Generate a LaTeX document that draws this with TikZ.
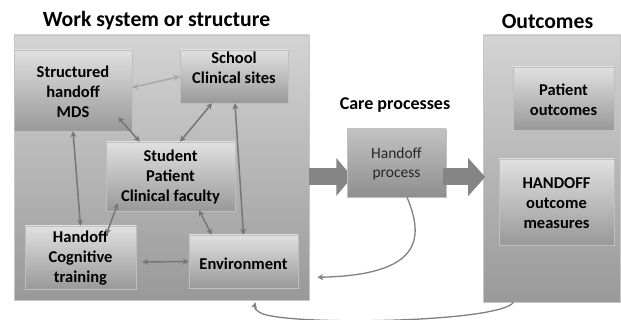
\documentclass[tikz,border=0pt]{standalone}
\usepackage{fontspec}
\setmainfont{Carlito}
\usetikzlibrary{arrows.meta,calc,shadows}
\definecolor{conn}{HTML}{767676}
\definecolor{connlight}{HTML}{A8A8A8}
\definecolor{bigarrow}{HTML}{858585}
\begin{document}
\begin{tikzpicture}[x=1pt,y=-1pt,
  outerbox/.style={draw=black!22, line width=0.6pt, top color=black!17, bottom color=black!40, minimum width=#1},
  innerbox/.style={draw=black!25, line width=0.5pt, top color=black!12, bottom color=black!40,
     drop shadow={opacity=0.35, shadow xshift=1.2pt, shadow yshift=-1.2pt}},
  procbox/.style={draw=black!25, line width=0.5pt, top color=black!24, bottom color=black!44,
     drop shadow={opacity=0.35, shadow xshift=1.2pt, shadow yshift=-1.2pt}},
  txt/.style={font=\fontsize{16.5}{20}\selectfont\bfseries, align=center, inner sep=0pt},
  ptxt/.style={font=\fontsize{15.5}{18.5}\selectfont, align=center, inner sep=0pt, text=black!85},
  ttl/.style={font=\fontsize{21.7}{24}\selectfont\bfseries, inner sep=0pt},
  ctl/.style={font=\fontsize{18}{20}\selectfont\bfseries, inner sep=0pt},
  dbl/.style={draw=conn, line width=1.5pt, {Stealth[length=6pt,width=6pt]}-{Stealth[length=6pt,width=6pt]}},
  curv/.style={draw=black!50, line width=1.3pt, -{Stealth[length=6pt,width=6pt]}}
]
\useasboundingbox (0,0) rectangle (621,320);
\fill[white] (0,0) rectangle (621,320);

% outer boxes
\node[outerbox=295pt, minimum height=265pt, inner sep=0pt, drop shadow={opacity=0.25, shadow xshift=1pt, shadow yshift=-1pt}] (outerL) at (161.5,167.5) {};
\node[outerbox=137pt, minimum height=267pt, inner sep=0pt, drop shadow={opacity=0.25, shadow xshift=1pt, shadow yshift=-1pt}] (outerR) at (552,168.5) {};

% titles
\node[ttl] (t1) at (156.5,21) {Work system or structure};
\node[ttl] (t2) at (547.5,21) {Outcomes};
\node[ctl] (t3) at (395,105) {Care processes};

% inner boxes
\node[innerbox, minimum width=118pt, minimum height=81pt, inner sep=0pt] (mds) at (73,90.5) {};
\node[innerbox, minimum width=108pt, minimum height=53pt, inner sep=0pt] (school) at (234,76.5) {};
\node[innerbox, minimum width=129pt, minimum height=69pt, inner sep=0pt] (student) at (170.5,176.5) {};
\node[innerbox, minimum width=111pt, minimum height=63pt, inner sep=0pt] (cog) at (80.5,257.5) {};
\node[innerbox, minimum width=109pt, minimum height=53pt, inner sep=0pt] (env) at (243.5,261.5) {};
\node[innerbox, minimum width=101pt, minimum height=63pt, inner sep=0pt] (pout) at (563.5,98.5) {};
\node[innerbox, minimum width=115pt, minimum height=86pt, inner sep=0pt] (hom) at (556.5,202) {};

% big arrows
\draw[bigarrow, line width=17pt, -{Triangle[width=37pt,length=16pt]}] ($(outerL.east)+(0,9.5)$) -- ($(outerL.east)+(43,9.5)$) coordinate (a1end);
\node[procbox, minimum width=99pt, minimum height=68pt, inner sep=0pt] (hproc) at (396.5,163) {};
\draw[bigarrow, line width=17pt, -{Triangle[width=37pt,length=17pt]}] ($(hproc.east)+(-3,14)$) -- ($(outerR.west)+(2,8.5)$);

% texts
\node[txt] (mdsT) at (73,92) {Structured\\handoff\\MDS};
\node[txt] (schoolT) at (234,68) {School\\Clinical sites};
\node[txt] (studentT) at (170.5,177) {Student\\Patient\\Clinical faculty};
\node[txt] (cogT) at (80.5,258) {Handoff\\Cognitive\\training};
\node[txt] (envT) at (243.5,264) {Environment};
\node[ptxt] (hprocT) at (396.5,164) {Handoff\\process};
\node[txt] (poutT) at (563.5,99.5) {Patient\\outcomes};
\node[txt] (homT) at (556.5,203) {HANDOFF\\outcome\\measures};

% double arrows
\draw[dbl, draw=connlight] ($(mds.east)+(0,-3)$) -- (school.west);
\draw[dbl] ($(mds.south east)+(-14,-14)$) -- ($(student.north west)+(34,0)$);
\draw[dbl] ($(school.south)+(-22,0)$) -- ($(student.north)+(9.5,0)$);
\draw[dbl] ($(school.south)+(1,0)$) -- (env.north);
\draw[dbl] (mds.south) -- (cog.north);
\draw[dbl] ($(student.south west)+(12,-8)$) -- ($(cog.north east)+(-30,9)$);
\draw[dbl] ($(student.south)+(28.5,-1)$) -- ($(env.north west)+(23,0)$);
\draw[dbl] ($(cog.east)+(6,4.5)$) -- (env.west);

% curved feedback arrows
\draw[curv] ($(hproc.south)+(10.5,0)$) .. controls (425,240) and (420,275) .. ($(outerL.south east)+(8,-23)$);
\draw[curv] ($(outerR.south)+(-38.5,0)$) .. controls (500,322) and (300,326) .. (263,314) .. controls (256,311) and (254,308) .. ($(outerL.south)+(94,2)$);
\end{tikzpicture}
\end{document}
